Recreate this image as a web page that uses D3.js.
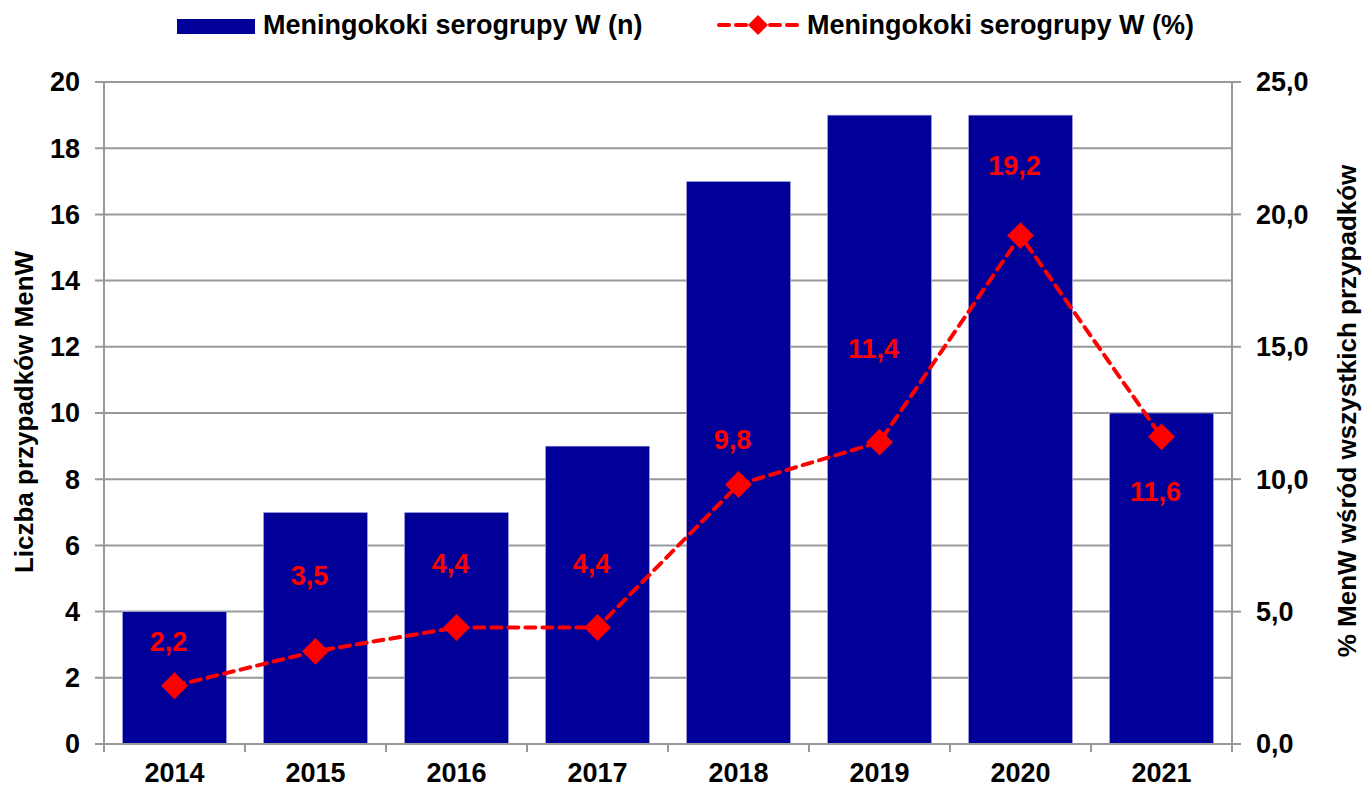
<!DOCTYPE html>
<html>
<head>
<meta charset="utf-8">
<script src="https://cdn.jsdelivr.net/npm/d3@7"></script>
<style>
  body { margin: 0; background: #fff; }
  text { font-family: Arial, "Liberation Sans", sans-serif; font-weight: bold; }
</style>
</head>
<body>
<div id="chart"></div>
<script>
const years = ['2014', '2015', '2016', '2017', '2018', '2019', '2020', '2021'];
const cases = [4, 7, 7, 9, 17, 19, 19, 10];
const percent = [2.2, 3.5, 4.4, 4.4, 9.8, 11.4, 19.2, 11.6];
const leftTicks = [0, 2, 4, 6, 8, 10, 12, 14, 16, 18, 20];
const rightTicks = [0, 5, 10, 15, 20, 25];
// label vertical offsets relative to the marker (px), as placed in the original
const labelShift = [-44, -76, -64, -64, -45, -94, -70, 55];

const width = 1364, height = 789;
const m = { left: 104, right: 1232, top: 82, bottom: 744 };
const grey = '#999999';
const barColor = '#000099';
const red = '#ff0000';
const fs = '27px';
const fmt = v => d3.format('.1f')(v).replace('.', ',');

const svg = d3.select('#chart').append('svg')
    .attr('width', width)
    .attr('height', height);

const x = d3.scaleBand()
    .domain(years)
    .range([m.left, m.right])
    .paddingInner(0.26)
    .paddingOuter(0.13);

const yL = d3.scaleLinear().domain([0, 20]).range([m.bottom, m.top]);
const yR = d3.scaleLinear().domain([0, 25]).range([m.bottom, m.top]);

// gridlines (left axis values)
svg.append('g')
    .selectAll('line')
    .data(leftTicks)
    .enter()
    .append('line')
    .attr('x1', m.left - 9)
    .attr('x2', m.right)
    .attr('y1', d => yL(d))
    .attr('y2', d => yL(d))
    .attr('stroke', grey)
    .attr('stroke-width', 2);

// right axis ticks
svg.append('g')
    .selectAll('line')
    .data(rightTicks)
    .enter()
    .append('line')
    .attr('x1', m.right)
    .attr('x2', m.right + 9)
    .attr('y1', d => yR(d))
    .attr('y2', d => yR(d))
    .attr('stroke', grey)
    .attr('stroke-width', 2);

// bars
svg.append('g')
    .selectAll('rect')
    .data(years)
    .enter()
    .append('rect')
    .attr('x', d => x(d))
    .attr('width', x.bandwidth())
    .attr('y', (d, i) => yL(cases[i]))
    .attr('height', (d, i) => yL(0) - yL(cases[i]))
    .attr('fill', barColor)
    .attr('stroke', '#c8c8f0')
    .attr('stroke-width', 0.6);

// axis lines
svg.append('line')
    .attr('x1', m.left).attr('x2', m.left)
    .attr('y1', m.top).attr('y2', m.bottom)
    .attr('stroke', grey).attr('stroke-width', 2);
svg.append('line')
    .attr('x1', m.right).attr('x2', m.right)
    .attr('y1', m.top).attr('y2', m.bottom)
    .attr('stroke', grey).attr('stroke-width', 2);
svg.append('line')
    .attr('x1', m.left - 9).attr('x2', m.right + 9)
    .attr('y1', m.bottom).attr('y2', m.bottom)
    .attr('stroke', grey).attr('stroke-width', 2);

// bottom ticks at band boundaries
const step = x.step();
svg.append('g')
    .selectAll('line')
    .data(d3.range(years.length + 1))
    .enter()
    .append('line')
    .attr('x1', i => m.left + i * step)
    .attr('x2', i => m.left + i * step)
    .attr('y1', m.bottom)
    .attr('y2', m.bottom + 8)
    .attr('stroke', grey)
    .attr('stroke-width', 2);

// tick labels
svg.append('g')
    .selectAll('text')
    .data(leftTicks)
    .enter()
    .append('text')
    .attr('x', 80)
    .attr('y', d => yL(d))
    .attr('dy', '0.35em')
    .attr('text-anchor', 'end')
    .style('font-size', fs)
    .text(d => d);

svg.append('g')
    .selectAll('text')
    .data(rightTicks)
    .enter()
    .append('text')
    .attr('x', 1256)
    .attr('y', d => yR(d))
    .attr('dy', '0.35em')
    .style('font-size', fs)
    .text(d => fmt(d));

svg.append('g')
    .selectAll('text')
    .data(years)
    .enter()
    .append('text')
    .attr('x', d => x(d) + x.bandwidth() / 2)
    .attr('y', 782)
    .attr('text-anchor', 'middle')
    .style('font-size', fs)
    .text(d => d);

// axis titles
svg.append('text')
    .attr('transform', 'translate(33,412) rotate(-90)')
    .attr('text-anchor', 'middle')
    .style('font-size', '26px')
    .text('Liczba przypadków MenW');

svg.append('text')
    .attr('transform', 'translate(1356,411) rotate(-90)')
    .attr('text-anchor', 'middle')
    .style('font-size', '26px')
    .text('% MenW wśród wszystkich przypadków');

// line series
const cx = (d, i) => x(years[i]) + x.bandwidth() / 2;
const line = d3.line()
    .x((d, i) => cx(d, i))
    .y(d => yR(d));

svg.append('path')
    .datum(percent)
    .attr('d', line)
    .attr('fill', 'none')
    .attr('stroke', red)
    .attr('stroke-width', 4)
    .attr('stroke-dasharray', '10,7')
    .attr('stroke-linecap', 'round');

const diamond = d3.symbol().type(d3.symbolSquare).size(360);
svg.append('g')
    .selectAll('path')
    .data(percent)
    .enter()
    .append('path')
    .attr('d', diamond)
    .attr('transform', (d, i) => `translate(${cx(d, i)},${yR(d)}) rotate(45)`)
    .attr('fill', red);

svg.append('g')
    .selectAll('text')
    .data(percent)
    .enter()
    .append('text')
    .attr('x', (d, i) => cx(d, i) - 6)
    .attr('y', (d, i) => yR(d) + labelShift[i])
    .attr('dy', '0.35em')
    .attr('text-anchor', 'middle')
    .attr('fill', red)
    .style('font-size', fs)
    .text(d => fmt(d));

// legend
const legend = svg.append('g');
legend.append('rect')
    .attr('x', 177).attr('y', 19)
    .attr('width', 78).attr('height', 15)
    .attr('fill', barColor);
legend.append('text')
    .attr('x', 263).attr('y', 34)
    .style('font-size', fs)
    .text('Meningokoki serogrupy W (n)');

legend.append('line')
    .attr('x1', 719).attr('x2', 797)
    .attr('y1', 25).attr('y2', 25)
    .attr('stroke', red)
    .attr('stroke-width', 4)
    .attr('stroke-dasharray', '10,7')
    .attr('stroke-linecap', 'round');
legend.append('path')
    .attr('d', d3.symbol().type(d3.symbolSquare).size(200))
    .attr('transform', 'translate(758,25) rotate(45)')
    .attr('fill', red);
legend.append('text')
    .attr('x', 807).attr('y', 34)
    .style('font-size', fs)
    .text('Meningokoki serogrupy W (%)');
</script>
</body>
</html>
